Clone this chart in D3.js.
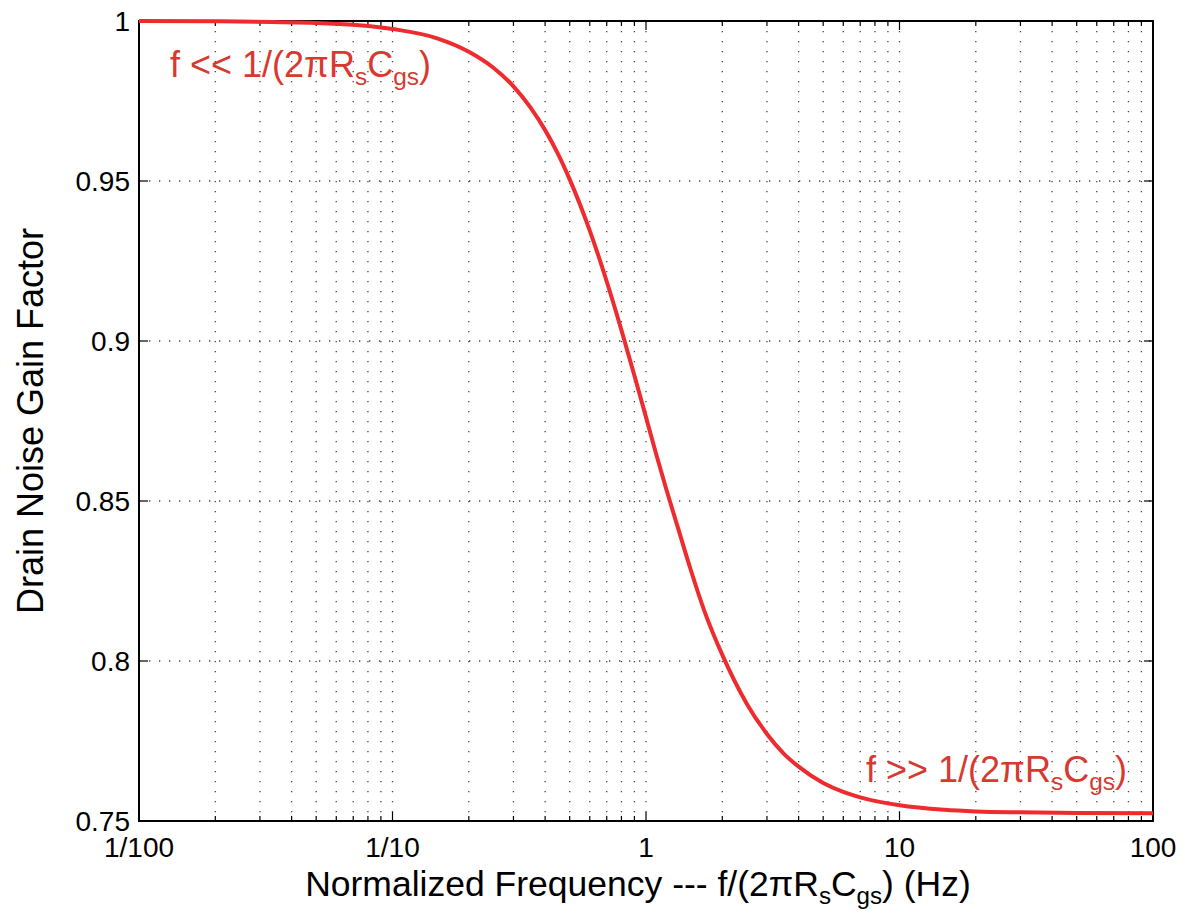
<!DOCTYPE html>
<html>
<head>
<meta charset="utf-8">
<script src="https://cdn.jsdelivr.net/npm/d3@7"></script>
<style>
  body { margin: 0; background: #fff; }
  text { font-family: "Liberation Sans", Arial, sans-serif; }
</style>
</head>
<body>
<svg id="chart" width="1183" height="912"></svg>
<script>
// normalized frequency (f / (2*pi*Rs*Cgs)) and gain factor
const freq = [0.01, 0.02, 0.05, 0.1, 0.15, 0.2, 0.25, 0.3, 0.35, 0.4, 0.45, 0.5, 0.6, 0.7,
              0.8, 0.9, 1.0, 1.1, 1.2, 1.35, 1.5, 1.7, 2.0, 2.5, 3.0, 3.5, 4.0, 5.0, 6.0,
              7.0, 10, 15, 20, 30, 50, 100];
const gain = [1.0, 0.9999, 0.9994, 0.9975, 0.9946, 0.9904, 0.9854, 0.9796, 0.973, 0.9659,
              0.9584, 0.9505, 0.9345, 0.9186, 0.9034, 0.8892, 0.8762, 0.8643, 0.8539,
              0.8405, 0.8286, 0.8156, 0.8019, 0.7866, 0.7772, 0.771, 0.767, 0.7619,
              0.7591, 0.7574, 0.7549, 0.7535, 0.753, 0.7527, 0.7525, 0.7524];

const xTicks = [0.01, 0.1, 1, 10, 100];
const xTickLabels = ["1/100", "1/10", "1", "10", "100"];
const yTicks = [0.75, 0.8, 0.85, 0.9, 0.95, 1];

const svg = d3.select("#chart");
const margin = {left: 139, top: 21, right: 30, bottom: 91};
const W = 1183 - margin.left - margin.right;
const H = 912 - margin.top - margin.bottom;

const x = d3.scaleLog().domain([0.01, 100]).range([0, W]);
const y = d3.scaleLinear().domain([0.75, 1]).range([H, 0]);

const g = svg.append("g").attr("transform", `translate(${margin.left},${margin.top})`);

// minor log positions 2..9 in each decade
const minor = [];
[0.01, 0.1, 1, 10].forEach(d => { for (let k = 2; k <= 9; k++) minor.push(d * k); });

// dotted grid
g.append("g").selectAll("line")
  .data(minor.concat(xTicks.slice(1, -1)))
  .enter().append("line")
  .attr("x1", d => x(d)).attr("x2", d => x(d))
  .attr("y1", 0).attr("y2", H)
  .attr("stroke", "#444").attr("stroke-width", 1.3)
  .attr("stroke-dasharray", "1.3,8.7");

g.append("g").selectAll("line")
  .data(yTicks.slice(1, -1))
  .enter().append("line")
  .attr("x1", 0).attr("x2", W)
  .attr("y1", d => y(d)).attr("y2", d => y(d))
  .attr("stroke", "#444").attr("stroke-width", 1.3)
  .attr("stroke-dasharray", "1.3,8.7");

// ticks (inward, on all four sides)
const tickG = g.append("g").attr("stroke", "#000").attr("stroke-width", 1.2);
[[0, 1], [H, -1]].forEach(([yy, dir]) => {
  tickG.selectAll(null).data(minor).enter().append("line")
    .attr("x1", d => x(d)).attr("x2", d => x(d))
    .attr("y1", yy).attr("y2", yy + dir * 5);
  tickG.selectAll(null).data(xTicks).enter().append("line")
    .attr("x1", d => x(d)).attr("x2", d => x(d))
    .attr("y1", yy).attr("y2", yy + dir * 9);
});
[[0, 1], [W, -1]].forEach(([xx, dir]) => {
  tickG.selectAll(null).data(yTicks).enter().append("line")
    .attr("x1", xx).attr("x2", xx + dir * 9)
    .attr("y1", d => y(d)).attr("y2", d => y(d));
});

// frame
g.append("rect").attr("width", W).attr("height", H)
  .attr("fill", "none").attr("stroke", "#000").attr("stroke-width", 2);

// tick labels
g.append("g").selectAll("text").data(xTicks).enter().append("text")
  .attr("x", d => x(d)).attr("y", H + 36)
  .attr("text-anchor", "middle").attr("font-size", 28)
  .text((d, i) => xTickLabels[i]);

g.append("g").selectAll("text").data(yTicks).enter().append("text")
  .attr("x", -9).attr("y", d => y(d) + 10)
  .attr("text-anchor", "end").attr("font-size", 28)
  .text(d => d === 1 ? "1" : d3.format(".2~f")(d));

// curve
const line = d3.line()
  .x((d, i) => x(freq[i]))
  .y(d => y(d))
  .curve(d3.curveMonotoneX);
g.append("path").datum(gain)
  .attr("d", line)
  .attr("fill", "none").attr("stroke", "#ee2b2e").attr("stroke-width", 4);

// text with subscripts: parts = [[text, isSub], ...]
function subText(parent, xp, yp, parts, size, color, anchor) {
  const t = parent.append("text").attr("x", xp).attr("y", yp)
    .attr("font-size", size).attr("fill", color).attr("text-anchor", anchor || "start");
  let prevSub = false;
  parts.forEach(([s, sub]) => {
    const ts = t.append("tspan").text(s);
    if (sub) ts.attr("font-size", size * 0.68);
    if (sub && !prevSub) ts.attr("dy", size * 0.22);
    else if (!sub && prevSub) ts.attr("dy", -size * 0.22);
    prevSub = sub;
  });
  return t;
}

const annColor = "#d8392f";
const ann = [["1/(2πR", false], ["s", true], ["C", false], ["gs", true], [")", false]];
subText(g, 31, 56, [["f << ", false]].concat(ann), 36, annColor);
subText(g, 727, 761, [["f >> ", false]].concat(ann), 36, annColor);

// axis titles
subText(svg, 638, 896,
  [["Normalized Frequency --- f/(2πR", false], ["s", true], ["C", false], ["gs", true], [") (Hz)", false]],
  35.5, "#000", "middle");

svg.append("text")
  .attr("transform", `translate(43,${margin.top + H / 2}) rotate(-90)`)
  .attr("text-anchor", "middle").attr("font-size", 36)
  .text("Drain Noise Gain Factor");
</script>
</body>
</html>
